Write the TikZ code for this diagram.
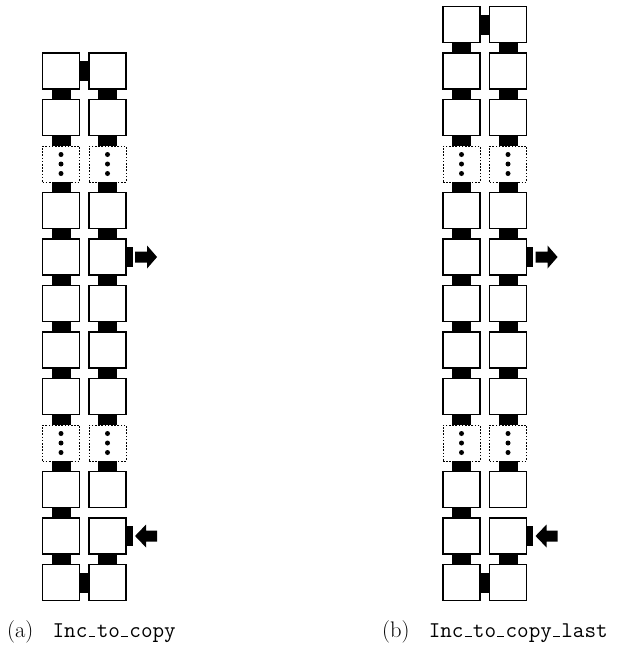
\documentclass[tikz,border=0pt]{standalone}
\newcommand{\usc}{\kern.06em\rule{.3em}{.05em}\kern.06em}
\begin{document}
\begin{tikzpicture}[x=1pt,y=-1pt,
  cell/.style={draw, line width=1.1pt, minimum width=37pt, minimum height=36pt, inner sep=0pt, fill=white},
  dcell/.style={draw, line width=0.8pt, dash pattern=on 1.6pt off 1.6pt, minimum width=37pt, minimum height=36pt, inner sep=0pt},
  link/.style={fill=black},
  dotmark/.style={fill=black},
  captext/.style={inner sep=0pt, font=\fontsize{22.5}{26}\selectfont}]
\useasboundingbox (0,0) rectangle (620,648);
% ---------- (a) ----------
\foreach \k in {1,2,4,5,6,7,8,10,11,12} {
  \pgfmathsetmacro\yy{71+(\k-1)*46.5}
  \node[cell] (La-\k) at (61,\yy) {};
  \node[cell] (Lb-\k) at (107.5,\yy) {};
}
\foreach \k in {3,9} {
  \pgfmathsetmacro\yy{71+(\k-1)*46.5}
  \node[dcell] (La-\k) at (61,\yy) {};
  \node[dcell] (Lb-\k) at (107.5,\yy) {};
  \foreach \c in {La,Lb} {
    \fill[dotmark] ([yshift=9.5pt]\c-\k.center) circle[radius=2.5pt];
    \fill[dotmark] (\c-\k.center) circle[radius=2.5pt];
    \fill[dotmark] ([yshift=-9.5pt]\c-\k.center) circle[radius=2.5pt];
  }
}
\foreach \k [evaluate=\k as \n using int(\k+1)] in {1,...,11} {
  \fill[link] ([xshift=-9.5pt]La-\k.south) rectangle ([xshift=9.5pt]La-\n.north);
}
\foreach \k [evaluate=\k as \n using int(\k+1)] in {1,...,9,11} {
  \fill[link] ([xshift=-9.5pt]Lb-\k.south) rectangle ([xshift=9.5pt]Lb-\n.north);
}
\fill[link] ([yshift=10pt]La-1.east) rectangle ([yshift=-10pt]Lb-1.west);
\fill[link] ([yshift=10pt]La-12.east) rectangle ([yshift=-10pt]Lb-12.west);
\fill[link] ([yshift=10pt]Lb-5.east) rectangle ([yshift=-10pt,xshift=6pt]Lb-5.east);
\fill[link] ([yshift=10pt]Lb-11.east) rectangle ([yshift=-10pt,xshift=6pt]Lb-11.east);
\fill[link] ([xshift=8.5pt]Lb-5.east) ++(0,-5.5) -- ++(12,0) -- ++(0,-6) -- ++(10,11.5) -- ++(-10,11.5) -- ++(0,-6) -- ++(-12,0) -- cycle;
\fill[link] ([xshift=8.5pt]Lb-11.east) -- ++(11,-11.5) -- ++(0,6) -- ++(11,0) -- ++(0,11) -- ++(-11,0) -- ++(0,6) -- cycle;
% ---------- (b) ----------
\foreach \k in {0,1,2,4,5,6,7,8,10,11,12} {
  \pgfmathsetmacro\yy{71+(\k-1)*46.5}
  \node[cell] (Ra-\k) at (461.5,\yy) {};
  \node[cell] (Rb-\k) at (508,\yy) {};
}
\foreach \k in {3,9} {
  \pgfmathsetmacro\yy{71+(\k-1)*46.5}
  \node[dcell] (Ra-\k) at (461.5,\yy) {};
  \node[dcell] (Rb-\k) at (508,\yy) {};
  \foreach \c in {Ra,Rb} {
    \fill[dotmark] ([yshift=9.5pt]\c-\k.center) circle[radius=2.5pt];
    \fill[dotmark] (\c-\k.center) circle[radius=2.5pt];
    \fill[dotmark] ([yshift=-9.5pt]\c-\k.center) circle[radius=2.5pt];
  }
}
\foreach \k [evaluate=\k as \n using int(\k+1)] in {0,...,11} {
  \fill[link] ([xshift=-9.5pt]Ra-\k.south) rectangle ([xshift=9.5pt]Ra-\n.north);
}
\foreach \k [evaluate=\k as \n using int(\k+1)] in {0,...,9,11} {
  \fill[link] ([xshift=-9.5pt]Rb-\k.south) rectangle ([xshift=9.5pt]Rb-\n.north);
}
\fill[link] ([yshift=10pt]Ra-0.east) rectangle ([yshift=-10pt]Rb-0.west);
\fill[link] ([yshift=10pt]Ra-12.east) rectangle ([yshift=-10pt]Rb-12.west);
\fill[link] ([yshift=10pt]Rb-5.east) rectangle ([yshift=-10pt,xshift=6pt]Rb-5.east);
\fill[link] ([yshift=10pt]Rb-11.east) rectangle ([yshift=-10pt,xshift=6pt]Rb-11.east);
\fill[link] ([xshift=8.5pt]Rb-5.east) ++(0,-5.5) -- ++(12,0) -- ++(0,-6) -- ++(10,11.5) -- ++(-10,11.5) -- ++(0,-6) -- ++(-12,0) -- cycle;
\fill[link] ([xshift=8.5pt]Rb-11.east) -- ++(11,-11.5) -- ++(0,6) -- ++(11,0) -- ++(0,11) -- ++(-11,0) -- ++(0,6) -- cycle;
% ---------- captions ----------
\node[captext, anchor=base west] (capA) at (7,637) {(a)\hspace{0.85em}\texttt{Inc\usc to\usc copy}};
\node[captext, anchor=base west] (capB) at (382,637) {(b)\hspace{0.85em}\texttt{Inc\usc to\usc copy\usc last}};
\end{tikzpicture}
\end{document}
